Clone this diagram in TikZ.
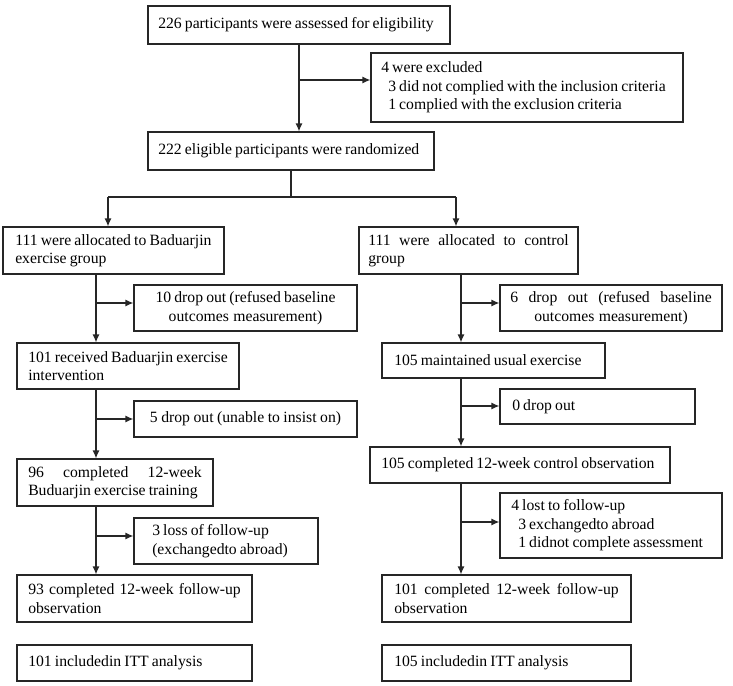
\documentclass[tikz,border=0pt]{standalone}
\usepackage{fontspec}
\setmainfont{Liberation Serif}
\usetikzlibrary{arrows.meta}
\newcommand{\jline}[1]{\makebox[\hsize][s]{\spaceskip=.2em plus 1fil\relax #1}}
\newcommand{\fbprep}{\spaceskip=.2em plus .1em minus .05em\relax\hyphenpenalty=10000\relax}
\newcommand{\flowbox}[8]{%
  \pgfmathsetmacro\fbcx{(#2+#4)/2}%
  \pgfmathsetmacro\fbcy{(#3+#5)/2}%
  \pgfmathsetmacro\fbw{#4-#2}%
  \pgfmathsetmacro\fbh{#5-#3}%
  \pgfmathsetmacro\fbtw{#4-#2-2*#6-0.5}%
  \node[fbox, minimum width=\fbw pt, minimum height=\fbh pt, inner xsep=#6pt,
        text width=\fbtw pt, align=#7] (#1) at (\fbcx,\fbcy) {\fbprep #8};%
}
\begin{document}
\begin{tikzpicture}[x=1pt,y=-1pt,
  fbox/.style={draw=black!85, line width=1.2pt, inner ysep=2pt,
     font=\fontsize{15.7}{18.4}\selectfont, text=black},
  conn/.style={line width=1.2pt, draw=black!85},
  arr/.style={conn, -{Latex[length=8pt,width=7pt]}}]
\useasboundingbox (0,0) rectangle (733,685);

\flowbox{b1}{148}{6}{450}{44}{10}{left}{226 participants were assessed for eligibility}
\flowbox{excl}{371}{53}{683}{122}{10}{left}{4 were excluded\\\mbox{\hspace*{7pt}3 did not complied with the inclusion criteria}\\\mbox{\hspace*{7pt}1 complied with the exclusion criteria}}
\flowbox{b2}{148}{132}{434}{170}{10}{left}{222 eligible participants were randomized}

\flowbox{L1}{3}{227}{224}{274}{12}{left}{\mbox{111 were allocated to Baduarjin}\\exercise group}
\flowbox{R1}{359}{227}{578}{274}{9}{left}{\jline{111 were allocated to control}\\group}

\flowbox{dL1}{134}{285}{357}{331}{8}{center}{\mbox{10 drop out (refused baseline}\\outcomes measurement)}
\flowbox{dR1}{500}{285}{722}{331}{10}{center}{\jline{6 drop out (refused baseline}\\outcomes measurement)}

\flowbox{L2}{17}{343}{239}{389}{11}{left}{\mbox{101 received Baduarjin exercise}\\intervention}
\flowbox{R2}{382}{343}{605}{378}{12}{left}{105 maintained usual exercise}

\flowbox{dL2}{134}{401}{357}{437}{8}{center}{5 drop out (unable to insist on)}
\flowbox{dR2}{500}{389}{695}{424}{12}{left}{0 drop out}

\flowbox{L3}{17}{459}{213}{506}{11}{left}{\jline{96 completed 12-week}\\\mbox{Buduarjin exercise training}}
\flowbox{R3}{370}{447}{670}{483}{11}{left}{105 completed 12-week control observation}

\flowbox{dL3}{134}{518}{318}{564}{18}{left}{3 loss of follow-up\\(exchangedto abroad)}
\flowbox{dR3}{500}{493}{722}{558}{11}{left}{4 lost to follow-up\\\mbox{\hspace*{7pt}3 exchangedto abroad}\\\mbox{\hspace*{7pt}1 didnot complete assessment}}

\flowbox{L4}{17}{575}{252}{622}{11}{left}{\jline{93 completed 12-week follow-up}\\observation}
\flowbox{R4}{382}{575}{631}{622}{12}{left}{\jline{101 completed 12-week follow-up}\\observation}

\flowbox{L5}{17}{645}{252}{681}{11}{left}{101 includedin ITT analysis}
\flowbox{R5}{382}{645}{631}{681}{12}{left}{105 includedin ITT analysis}

% top section
\coordinate (j0) at (299,80);
\draw[arr] (b1.south) -- (b1.south |- b2.north);
\draw[arr] (j0) -- (excl.west |- j0);

% split
\coordinate (sM) at (291,197);
\coordinate (sL) at (108,197);
\coordinate (sR) at (456,197);
\draw[conn] (b2.south -| sM) -- (sM);
\draw[conn] (sL) -- (sR);
\draw[arr] (sL) -- (sL |- L1.north);
\draw[arr] (sR) -- (sR |- R1.north);

% left column
\coordinate (cl) at (96,0);
\coordinate (jl1) at (96,303);
\coordinate (jl2) at (96,419);
\coordinate (jl3) at (96,536);
\draw[arr] (L1.south -| cl) -- (L2.north -| cl);
\draw[arr] (L2.south -| cl) -- (L3.north -| cl);
\draw[arr] (L3.south -| cl) -- (L4.north -| cl);
\draw[arr] (jl1) -- (dL1.west |- jl1);
\draw[arr] (jl2) -- (dL2.west |- jl2);
\draw[arr] (jl3) -- (dL3.west |- jl3);

% right column
\coordinate (cr) at (461,0);
\coordinate (jr1) at (461,303);
\coordinate (jr2) at (461,406);
\coordinate (jr3) at (461,522);
\draw[arr] (R1.south -| cr) -- (R2.north -| cr);
\draw[arr] (R2.south -| cr) -- (R3.north -| cr);
\draw[arr] (R3.south -| cr) -- (R4.north -| cr);
\draw[arr] (jr1) -- (dR1.west |- jr1);
\draw[arr] (jr2) -- (dR2.west |- jr2);
\draw[arr] (jr3) -- (dR3.west |- jr3);
\end{tikzpicture}
\end{document}
